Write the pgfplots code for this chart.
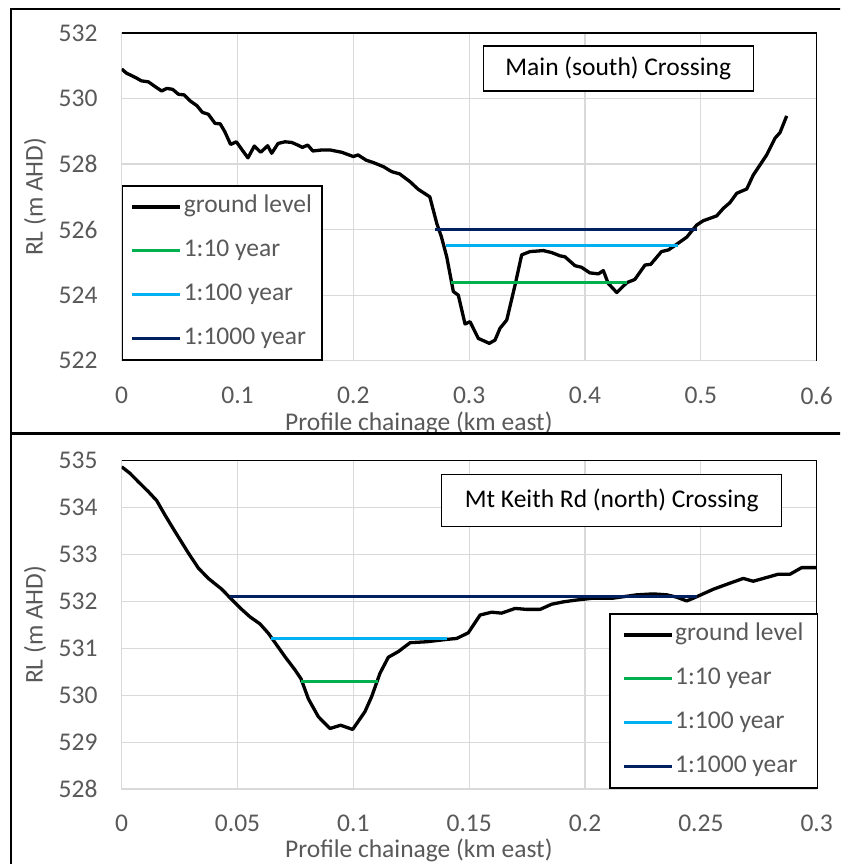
\documentclass[border=0pt]{standalone}
\usepackage{fontspec}
\setmainfont{Carlito}
\usepackage{pgfplots}
\pgfplotsset{compat=1.18}

\definecolor{txtgray}{HTML}{595959}
\definecolor{gridgray}{HTML}{D9D9D9}
\definecolor{c10}{HTML}{00B050}
\definecolor{c100}{HTML}{00B0F0}
\definecolor{c1000}{HTML}{002060}

\newcommand{\bigfont}{\fontsize{25.5}{30}\selectfont}

\pgfplotsset{
  profile/.style={
    scale only axis, width=695pt,
    axis line style={draw=gridgray, line width=1.2pt},
    grid=major, major grid style={gridgray, line width=1.2pt},
    major tick length=0pt,
    scaled ticks=false,
    tick label style={font=\bigfont, text=txtgray},
    /pgf/number format/assume math mode=true,
    xticklabel style={inner sep=0pt, anchor=north, yshift=-26pt,
      /pgf/number format/fixed, /pgf/number format/precision=2},
    yticklabel style={inner sep=0pt, anchor=east, xshift=-24pt},
    label style={font=\bigfont, text=txtgray},
    xlabel style={anchor=base},
    ylabel style={anchor=base},
    legend cell align=left,
    legend style={font=\bigfont, text=txtgray, draw=black, line width=1.5pt,
      inner xsep=6pt, inner ysep=7pt, row sep=16pt,
      nodes={inner sep=2pt, text height=18pt, text depth=6pt}},
    legend image code/.code={\draw[#1] (0pt,0pt) -- (48pt,0pt);},
    ground/.style={black, line width=3.3pt, line join=round},
    wl/.style={line width=3pt},
    after end axis/.code={\draw[black, line width=1.5pt]
      (rel axis cs:0,1) -- (rel axis cs:1,1) -- (rel axis cs:1,0);},
  }
}

\begin{document}
\begin{tikzpicture}[x=1pt,y=1pt]
\useasboundingbox (0,0) rectangle (840,-864);
\clip (0,0) rectangle (840,-864);
\fill[white] (0,0) rectangle (840,-864);

% top panel: Main (south) Crossing
\begin{axis}[profile,
  at={(121.7pt,-360.7pt)}, anchor=south west, height=327.7pt,
  xmin=0, xmax=0.6, ymin=522, ymax=532,
  xtick={0,0.1,0.2,0.3,0.4,0.5,0.6},
  ytick={522,524,526,528,530,532},
  xlabel={Profile chainage (km east)},
  ylabel={RL (m AHD)},
  xlabel style={at={(axis description cs:0.4275,-0.213)}},
  ylabel style={at={(axis description cs:-0.1137,0.5)}},
  legend style={at={(0,0)}, anchor=south west, inner xsep=8pt},
]
\addplot[ground] coordinates {
(0,530.90) (0.0043,530.77) (0.0086,530.70) (0.013,530.62) (0.017,530.54)
(0.023,530.51) (0.029,530.36) (0.0345,530.23) (0.039,530.31) (0.044,530.28)
(0.049,530.13) (0.054,530.11) (0.059,529.93) (0.065,529.78) (0.0696,529.58)
(0.0748,529.52) (0.0806,529.24) (0.085,529.23) (0.089,528.99) (0.094,528.60)
(0.099,528.68) (0.104,528.43) (0.109,528.19) (0.1145,528.55) (0.120,528.36)
(0.126,528.56) (0.1295,528.33) (0.135,528.63) (0.141,528.68) (0.1468,528.66)
(0.152,528.58) (0.156,528.51) (0.1606,528.58) (0.165,528.40) (0.1727,528.43)
(0.18,528.43) (0.19,528.36) (0.2,528.23) (0.204,528.28) (0.211,528.12)
(0.217,528.05) (0.226,527.92) (0.233,527.77) (0.240,527.70) (0.249,527.46)
(0.256,527.23) (0.266,527.00) (0.272,526.19) (0.276,525.78) (0.2806,525.17)
(0.2863,524.11) (0.2906,524.00) (0.2964,523.12) (0.3007,523.19) (0.3079,522.68)
(0.3174,522.53) (0.3223,522.63) (0.3266,522.99) (0.3324,523.24) (0.3396,524.31)
(0.3453,525.23) (0.3525,525.33) (0.364,525.36) (0.3712,525.30) (0.3784,525.20)
(0.3827,525.17) (0.3913,524.90) (0.397,524.85) (0.4042,524.68) (0.4115,524.65)
(0.4158,524.75) (0.420,524.36) (0.4274,524.08) (0.436,524.38) (0.443,524.48)
(0.4518,524.92) (0.4567,524.94) (0.466,525.33) (0.472,525.38) (0.479,525.55)
(0.4878,525.77) (0.4964,526.14) (0.502,526.27) (0.5137,526.42) (0.5194,526.65)
(0.525,526.82) (0.531,527.11) (0.5396,527.24) (0.5453,527.67) (0.5568,528.28)
(0.564,528.79) (0.5683,528.96) (0.5741,529.47)
};
\addlegendentry{ground level}
\addplot[wl, c10] coordinates {(0.2843,524.39) (0.3404,524.39) (nan,nan) (0.4216,524.39) (0.4365,524.39)};
\addlegendentry{1:10 year}
\addplot[wl, c100] coordinates {(0.280,525.51) (0.4805,525.51)};
\addlegendentry{1:100 year}
\addplot[wl, c1000] coordinates {(0.2705,526.0) (0.4965,526.0)};
\addlegendentry{1:1000 year}
\end{axis}

% bottom panel: Mt Keith Rd (north) Crossing
\begin{axis}[profile,
  at={(121.7pt,-789pt)}, anchor=south west, height=328.3pt,
  xmin=0, xmax=0.3, ymin=528, ymax=535,
  xtick={0,0.05,0.1,0.15,0.2,0.25,0.3},
  ytick={528,529,530,531,532,533,534,535},
  xlabel={Profile chainage (km east)},
  ylabel={RL (m AHD)},
  xlabel style={at={(axis description cs:0.4275,-0.208)}},
  ylabel style={at={(axis description cs:-0.1137,0.5)}},
  legend style={at={(1.002,0.001)}, anchor=south east, inner xsep=12pt},
]
\addplot[ground] coordinates {
(0,534.87) (0.0036,534.73) (0.0072,534.55) (0.0115,534.34) (0.0151,534.15)
(0.0187,533.84) (0.023,533.49) (0.0288,533.03) (0.0331,532.71) (0.0374,532.49)
(0.0432,532.26) (0.0475,532.04) (0.0518,531.83) (0.0554,531.67) (0.0597,531.52)
(0.0633,531.32) (0.0662,531.12) (0.0705,530.82) (0.0748,530.54) (0.0774,530.35)
(0.0806,529.92) (0.0849,529.54) (0.0899,529.29) (0.0945,529.36) (0.0997,529.27)
(0.105,529.65) (0.1079,529.97) (0.1115,530.47) (0.1151,530.81) (0.1194,530.93)
(0.1245,531.12) (0.1317,531.14) (0.1403,531.19) (0.1446,531.21) (0.1496,531.33)
(0.1547,531.71) (0.1597,531.77) (0.164,531.75) (0.1698,531.85) (0.1748,531.83)
(0.1806,531.83) (0.1856,531.94) (0.1906,531.99) (0.1964,532.03) (0.2036,532.07)
(0.2122,532.07) (0.2223,532.14) (0.2295,532.16) (0.2353,532.14) (0.2396,532.09)
(0.2439,532.01) (0.2482,532.10) (0.2554,532.26) (0.2626,532.39) (0.2683,532.49)
(0.2726,532.43) (0.2784,532.51) (0.2834,532.58) (0.2885,532.58) (0.2935,532.72)
(0.3,532.72)
};
\addlegendentry{ground level}
\addplot[wl, c10] coordinates {(0.0774,530.30) (0.1105,530.30)};
\addlegendentry{1:10 year}
\addplot[wl, c100] coordinates {(0.0643,531.20) (0.1403,531.20)};
\addlegendentry{1:100 year}
\addplot[wl, c1000] coordinates {(0.0468,532.10) (0.2482,532.10)};
\addlegendentry{1:1000 year}
\end{axis}

% crossing names
\node[draw=black, line width=1.5pt, fill=white, minimum width=270pt, minimum height=45pt,
  font=\bigfont, inner sep=0pt] at (618.3,-68.3) {Main (south) Crossing};
\node[draw=black, line width=1.5pt, fill=white, minimum width=340pt, minimum height=52pt,
  font=\bigfont, inner sep=0pt] at (611.7,-500.5) {Mt Keith Rd (north) Crossing};

% chart area frames
\draw[black, line width=2.5pt] (11,-9) -- (845,-9);
\draw[black, line width=2.5pt] (11,-8) -- (11,-870);
\draw[black, line width=3pt] (10,-433) -- (845,-433);
\end{tikzpicture}
\end{document}
